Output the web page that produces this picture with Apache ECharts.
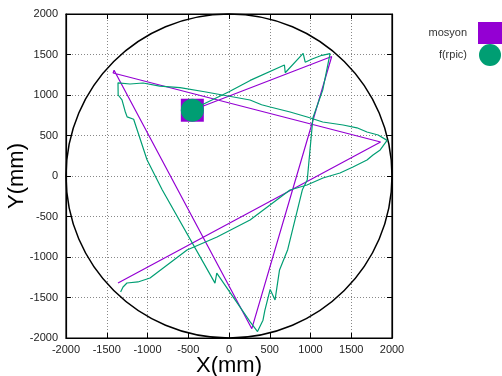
<!DOCTYPE html>
<html>
<head>
<meta charset="utf-8">
<script src="https://cdn.jsdelivr.net/npm/echarts@6/dist/echarts.min.js"></script>
<style>
  html, body { margin: 0; padding: 0; background: #fff; }
  #chart { width: 502px; height: 376px; }
</style>
</head>
<body>
<div id="chart"></div>
<script>
// axis range and tick step (mm)
const axisRange = [-2000, 2000];
const tickStep = 500;

// boundary circle: centre and radius (mm)
const circleCentre = [0, 0];
const circleRadius = 2000;

// commanded path (first point = start marker)
const mosyonPath = [
  [-450, 812], [1260, 1475], [280, -1885], [-1410, 1305], [-1422, 1272],
  [1860, 420], [-1362, -1322]
];

// measured path (first point = start marker)
const rpicPath = [
  [-450, 812], [-330, 880], [0, 1040], [260, 1180], [680, 1370], [690, 1275],
  [910, 1515], [935, 1405], [1020, 1445], [1140, 1490], [1240, 1510],
  [1150, 1060], [1030, 720], [960, -50], [900, -170], [720, -910], [620, -1160],
  [565, -1530], [505, -1400], [440, -1660], [417, -1780], [350, -1920],
  [260, -1800], [-150, -1200], [-172, -1322], [-820, -170], [-1006, 200],
  [-1170, 700], [-1250, 730], [-1275, 800], [-1313, 940], [-1360, 1000],
  [-1362, 1150], [-1215, 1136], [-1055, 1148], [-850, 1110], [-600, 1090],
  [-300, 1040], [258, 938], [400, 880], [505, 852], [750, 790], [960, 728],
  [1150, 667], [1400, 630], [1570, 595], [1693, 543], [1830, 506], [1940, 440],
  [1950, 420], [1855, 322], [1767, 259], [1693, 198], [1521, 111], [1362, 37],
  [1153, -25], [957, -111], [748, -173], [258, -543], [-147, -753], [-515, -914],
  [-969, -1259], [-1117, -1308], [-1252, -1321], [-1300, -1370], [-1330, -1432]
];

const chart = echarts.init(document.getElementById('chart'));
const fontFamily = "'Liberation Sans', Arial, sans-serif";

const baseAxis = {
  type: 'value',
  min: axisRange[0],
  max: axisRange[1],
  interval: tickStep,
  axisLine: { show: true, onZero: false, lineStyle: { color: '#000', width: 1.2 } },
  axisTick: { show: true, inside: true, length: 5, lineStyle: { color: '#000' } },
};

const option = {
  animation: false,
  textStyle: { fontFamily },
  grid: {
    left: 66, right: 110, top: 14, bottom: 38,
    containLabel: false,
    outerBoundsMode: 'none',
    show: true, borderColor: '#000', borderWidth: 1.2,
  },
  legend: {
    orient: 'vertical',
    right: -5,
    top: 17,
    align: 'right',
    itemWidth: 24,
    itemHeight: 22,
    itemGap: 0,
    textStyle: { fontSize: 11, color: '#333', padding: [0, 6, 0, 0] },
    data: [
      { name: 'mosyon', icon: 'rect' },
      { name: 'f(rpic)', icon: 'circle' },
    ],
  },
  xAxis: [
    {
      ...baseAxis,
      position: 'bottom',
      name: 'X(mm)',
      nameLocation: 'middle',
      nameGap: 17,
      nameMoveOverlap: false,
      nameTextStyle: { fontSize: 22, color: '#000' },
      axisLabel: { fontSize: 11, color: '#222', margin: 6, formatter: (v) => String(v) },
      splitLine: { show: true, lineStyle: { color: '#888', type: [1, 2], width: 1 } },
    },
    {
      ...baseAxis,
      position: 'top',
      axisLabel: { show: false },
      splitLine: { show: false },
    },
  ],
  yAxis: [
    {
      ...baseAxis,
      position: 'left',
      name: 'Y(mm)',
      nameLocation: 'middle',
      nameGap: 38,
      nameMoveOverlap: false,
      nameTextStyle: { fontSize: 22, color: '#000' },
      axisLabel: { fontSize: 11, color: '#222', margin: 8, formatter: (v) => String(v) },
      splitLine: { show: true, lineStyle: { color: '#888', type: [1, 2], width: 1 } },
    },
    {
      ...baseAxis,
      position: 'right',
      axisLabel: { show: false },
      splitLine: { show: false },
    },
  ],
  series: [
    {
      name: 'circle',
      type: 'custom',
      silent: true,
      data: [circleCentre],
      renderItem: (params, api) => {
        const c = api.coord([api.value(0), api.value(1)]);
        const s = api.size([circleRadius, circleRadius]);
        return {
          type: 'ellipse',
          shape: { cx: c[0], cy: c[1], rx: s[0], ry: s[1] },
          style: { fill: 'none', stroke: '#000', lineWidth: 1.5 },
        };
      },
    },
    {
      name: 'mosyon',
      type: 'line',
      data: mosyonPath,
      showSymbol: true,
      symbol: (v, p) => (p.dataIndex === 0 ? 'rect' : 'none'),
      symbolSize: 23,
      itemStyle: { color: '#9400d3' },
      lineStyle: { color: '#9400d3', width: 1.2 },
      z: 3,
    },
    {
      name: 'f(rpic)',
      type: 'line',
      data: rpicPath,
      showSymbol: true,
      symbol: (v, p) => (p.dataIndex === 0 ? 'circle' : 'none'),
      symbolSize: 23,
      itemStyle: { color: '#009e73' },
      lineStyle: { color: '#009e73', width: 1.2 },
      z: 4,
    },
  ],
};

chart.setOption(option);
</script>
</body>
</html>
